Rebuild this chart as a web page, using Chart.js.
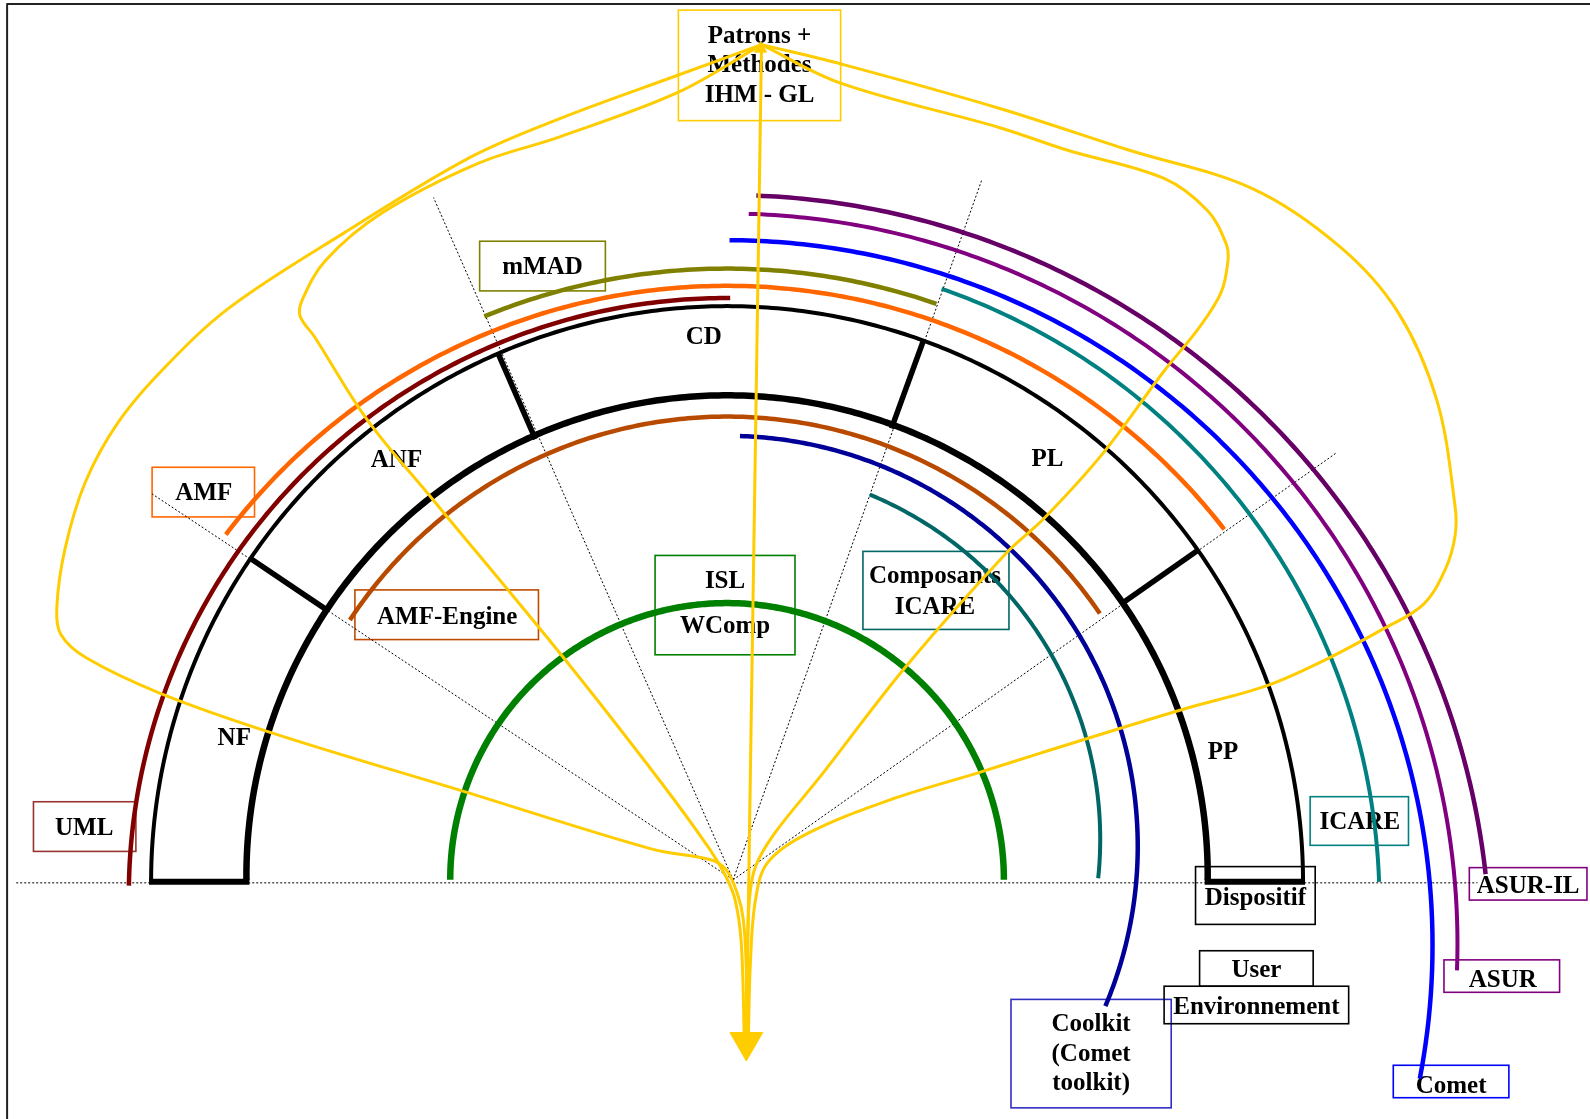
<!DOCTYPE html>
<html>
<head>
<meta charset="utf-8">
<title>Patrons + Méthodes IHM - GL</title>
<script src="https://cdn.jsdelivr.net/npm/chart.js@4.4.1/dist/chart.umd.min.js"></script>
<style>
  html, body { margin: 0; padding: 0; background: #fff; }
  canvas { display: block; background: #fff; }
</style>
</head>
<body>
<canvas id="theChart" width="1590" height="1119"></canvas>
<script>
'use strict';

// diagram units: 0,0 is the centre of the half rings on the base line, y goes up

// layers drawn as arcs (centre height, radius, start and end angle in degrees)
let arcNames   = ['ISL / WComp', 'Composants ICARE', 'Coolkit', 'AMF-Engine', 'inner ring', 'outer ring', 'UML', 'AMF', 'mMAD', 'ICARE', 'Comet', 'ASUR', 'ASUR-IL'];
let arcCentreY = [0, 40, 33, 12, 4, -2, -16, -34.5, -28, -24.5, -64.7, -63, -77];
let arcRadius  = [273, 368, 405, 445, 474, 568, 590, 620.5, 631, 643.4, 695.7, 720.3, 752.6];
let arcFrom    = [180, 67.5, 88.2, 146.7, 180.5, 180, 179, 142.8, 112.3, 70.8, 89.8, 88.3, 87.8];
let arcTo      = [0, -6, -22.9, 34.3, -0.5, 0, 89.7, 37.8, 70.9, 2, -10.9, -2.1, 6.3];

// sectors of the ring and the angles of the walls between them
let sectorNames  = ['NF', 'ANF', 'CD', 'PL', 'PP'];
let wallAngles   = [146, 113.5, 70, 35];
let wallInner    = 474;
let wallOuter    = 566;
let rayAngles    = [146.4, 113.7, 70.45, 35.3];
let rayLength    = [688, 735, 732, 728];

// yellow links from "Patrons + Méthodes" down to the arrow
let linkLeftOuter  = [[34,824],[-48,794],[-165,751],[-253,713],[-378,638],[-490,565],[-555,505],[-600,452],[-633,392],[-653,326],[-661,268],[-657,242],[-632,219],[-559,184],[-449,145],[-259,87],[-73,30],[-17,20],[-1,10],[10,-13],[16,-39],[19,-89],[19,-156]];
let linkLeftInner  = [[34,824],[-48,777],[-165,733],[-245,707],[-340,658],[-396,611],[-419,572],[-421,556],[-407,536],[-355,454],[-290,375],[-162,220],[-65,96],[-17,30],[-1,3],[8,-20],[14,-62],[17,-156]];
let linkRightInner = [[34,824],[112,786],[269,742],[335,720],[431,692],[474,660],[492,628],[494,611],[487,579],[465,544],[431,502],[370,420],[313,357],[275,322],[176,210],[92,102],[47,46],[28,13],[22,-20],[20,-82],[20,-156]];
let linkRightOuter = [[34,824],[112,805],[269,761],[396,720],[518,682],[604,625],[661,561],[700,473],[718,368],[718,340],[709,308],[687,272],[648,248],[588,216],[531,191],[449,168],[309,125],[249,106],[161,79],[80,46],[40,17],[28,-20],[23,-82],[21,-156]];
let linkStraight   = [[34,824],[19,-156]];

// styles
let arcColors = ['#008000', '#006666', '#000099', '#B84A00', '#000000', '#000000', '#800000', '#FF6600', '#808000', '#008080', '#0000FF', '#800080', '#660066'];
let arcWidths = [6.5, 4, 4.5, 4.5, 6.5, 4, 4.5, 4.5, 4.5, 4, 4.5, 4, 4.5];
let yellow = '#FFCC00';

// boxes and text (layout only)
let boxes = [
  { rect: [-48, 858, 112, 749], color: yellow, lines: ['Patrons +', 'Méthodes', 'IHM - GL'], at: [32, 834], step: 29 },
  { rect: [-244, 630, -120, 581], color: '#808000', lines: ['mMAD'], at: [-182, 606] },
  { rect: [-567, 407, -466, 358], color: '#FF6600', lines: ['AMF'], at: [-516, 383] },
  { rect: [-367, 286, -186, 237], color: '#C04A00', lines: ['AMF-Engine'], at: [-276, 261] },
  { rect: [-684, 77, -583, 28], color: '#993333', lines: ['UML'], at: [-634, 53] },
  { rect: [-71, 320, 67, 222], color: '#008000', lines: ['ISL', 'WComp'], at: [-2, 296], step: 44 },
  { rect: [134, 324, 278, 247], color: '#006666', lines: ['Composants', 'ICARE'], at: [205, 301], step: 30 },
  { rect: [575, 82, 672, 34], color: '#008080', lines: ['ICARE'], at: [624, 58] },
  { rect: [732, 12, 848, -20], color: '#800080', lines: ['ASUR-IL'], at: [790, -5] },
  { rect: [707, -79, 821, -111], color: '#800080', lines: ['ASUR'], at: [765, -97] },
  { rect: [657, -183, 771, -215], color: '#0000FF', lines: ['Comet'], at: [714, -202] },
  { rect: [280, -118, 438, -225], color: '#3030C0', lines: ['Coolkit', '(Comet', 'toolkit)'], at: [359, -141], step: 29 },
  { rect: [462, 13, 580, -44], color: '#000000', lines: ['Dispositif'], at: [521, -17] },
  { rect: [466, -70, 578, -105], color: '#000000', lines: ['User'], at: [522, -88] },
  { rect: [431, -105, 613, -142], color: '#000000', lines: ['Environnement'], at: [522, -124] }
];
let sectorLabelAt = [[-486, 141], [-326, 416], [-23, 537], [316, 417], [489, 128]];

function arcPoints(cy, r, from, to) {
  let pts = [];
  let steps = Math.max(8, Math.ceil(Math.abs(to - from)));
  for (let i = 0; i <= steps; i++) {
    let a = (from + (to - from) * i / steps) * Math.PI / 180;
    pts.push({ x: r * Math.cos(a), y: cy + r * Math.sin(a) });
  }
  return pts;
}

function toPoints(list) {
  return list.map(p => ({ x: p[0], y: p[1] }));
}

function lineSet(data, color, width, extra) {
  return Object.assign({
    data: data,
    showLine: true,
    borderColor: color,
    backgroundColor: color,
    borderWidth: width,
    pointRadius: 0,
    tension: 0,
    fill: false,
    borderCapStyle: 'butt',
    borderJoinStyle: 'round'
  }, extra || {});
}

// back to front
let layers = [];

// frame
layers.push(lineSet([{ x: -710, y: -236 }, { x: -710, y: 864 }, { x: 851, y: 864 }], '#222', 2));

// dotted base line and rays
layers.push(lineSet([{ x: -701, y: -3 }, { x: 740, y: -3 }], '#000', 1, { borderDash: [2, 2] }));
for (let i = 0; i < rayAngles.length; i++) {
  let a = rayAngles[i] * Math.PI / 180;
  layers.push(lineSet([{ x: 6, y: 0 }, { x: 6 + rayLength[i] * Math.cos(a), y: rayLength[i] * Math.sin(a) }], '#000', 1, { borderDash: [2, 2] }));
}

// arcs (a small tension keeps chart.js off its fast path, which snaps steep parts to pixel columns)
for (let i = 0; i < arcNames.length; i++) {
  layers.push(lineSet(arcPoints(arcCentreY[i], arcRadius[i], arcFrom[i], arcTo[i]), arcColors[i], arcWidths[i], { tension: 0.1 }));
}

// bottom of the ring and the walls between sectors
layers.push(lineSet([{ x: -570, y: -2 }, { x: -471, y: -2 }], '#000', 6));
layers.push(lineSet([{ x: 471, y: -2 }, { x: 570, y: -2 }], '#000', 6));
wallAngles.forEach(w => {
  let a = w * Math.PI / 180;
  layers.push(lineSet([
    { x: wallInner * Math.cos(a), y: wallInner * Math.sin(a) },
    { x: wallOuter * Math.cos(a), y: wallOuter * Math.sin(a) }
  ], '#000', 5.5));
});

// yellow links
[linkLeftOuter, linkLeftInner, linkRightInner, linkRightOuter].forEach(l => {
  layers.push(lineSet(toPoints(l), yellow, 3, { tension: 0.35 }));
});
layers.push(lineSet(toPoints(linkStraight), yellow, 3));

// arrow heads
layers.push({
  data: [{ x: 19, y: -160 }], showLine: false,
  pointStyle: 'triangle', pointRadius: 19, rotation: 180,
  backgroundColor: yellow, borderColor: yellow, borderWidth: 1
});
layers.push({
  data: [{ x: 33, y: 820 }], showLine: false,
  pointStyle: 'triangle', pointRadius: 7, rotation: 0,
  backgroundColor: yellow, borderColor: yellow, borderWidth: 1
});

let datasets = layers.reverse();

let boxesAndText = {
  id: 'boxesAndText',
  beforeDatasetsDraw(chart) {
    let c = chart.ctx;
    let sx = chart.scales.x;
    let sy = chart.scales.y;
    c.save();
    boxes.forEach(b => {
      let x0 = sx.getPixelForValue(b.rect[0]);
      let y0 = sy.getPixelForValue(b.rect[1]);
      let x1 = sx.getPixelForValue(b.rect[2]);
      let y1 = sy.getPixelForValue(b.rect[3]);
      c.strokeStyle = b.color;
      c.lineWidth = 1.6;
      c.strokeRect(x0, y0, x1 - x0, y1 - y0);
    });
    c.font = 'bold 25px "Liberation Serif", "Times New Roman", serif';
    c.textAlign = 'center';
    c.textBaseline = 'middle';
    c.fillStyle = '#000';
    let dy = 2; // middle baseline sits a little high for this face
    boxes.forEach(b => {
      b.lines.forEach((t, k) => {
        c.fillText(t, sx.getPixelForValue(b.at[0]), sy.getPixelForValue(b.at[1] - k * (b.step || 0)) + dy);
      });
    });
    sectorNames.forEach((n, i) => {
      c.fillText(n, sx.getPixelForValue(sectorLabelAt[i][0]), sy.getPixelForValue(sectorLabelAt[i][1]) + dy);
    });
    c.restore();
  }
};

let ctx = document.getElementById('theChart').getContext('2d');
let theChart = new Chart(ctx, {
  type: 'scatter',
  data: { datasets: datasets },
  options: {
    responsive: false,
    animation: false,
    events: [],
    layout: { padding: 0, autoPadding: false },
    scales: {
      x: { type: 'linear', min: -717, max: 851, display: false },
      y: { type: 'linear', min: -236, max: 868, display: false }
    },
    plugins: {
      legend: { display: false },
      tooltip: { enabled: false }
    }
  },
  plugins: [boxesAndText]
});
</script>
</body>
</html>
